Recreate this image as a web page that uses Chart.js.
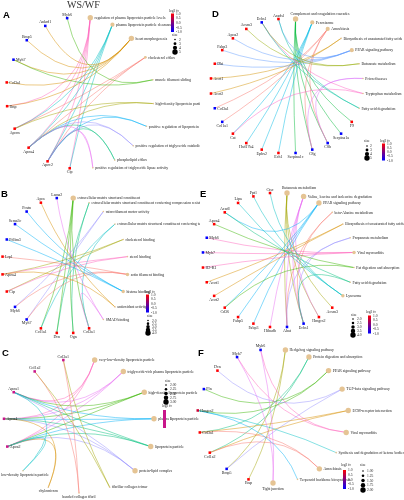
<!DOCTYPE html>
<html>
<head>
<meta charset="utf-8">
<script src="https://cdn.jsdelivr.net/npm/chart.js@4.4.1/dist/chart.umd.min.js"></script>
<style>
  body { margin: 0; background: #fff; }
  #wrap { position: relative; width: 404px; height: 500px; overflow: hidden; }
  #wrap canvas { position: absolute; }
</style>
</head>
<body>
<div id="wrap">
  <canvas id="panelA"></canvas>
  <canvas id="panelD"></canvas>
  <canvas id="panelB"></canvas>
  <canvas id="panelE"></canvas>
  <canvas id="panelC"></canvas>
  <canvas id="panelF"></canvas>
</div>
<script>
// ---------- data (terms go clockwise from the top, genes continue round the circle) ----------
// A
const termsA = ['regulation of plasma lipoprotein particle levels', 'plasma lipoprotein particle clearance', 'heart morphogenesis', 'cholesterol efflux', 'muscle filament sliding', 'high-density lipoprotein particle assembly', 'positive regulation of lipoprotein lipase activity', 'positive regulation of triglyceride catabolic process', 'phospholipid efflux', 'positive regulation of triglyceride lipase activity'];
const genesA = ['Cip', 'Apoc2', 'Apoa4', 'Apom', 'Ibsp', 'Col3a1', 'Myh7', 'Bmp5', 'Ankrd1', 'Myh6'];
const fcA = [1, 1, 1, 1, 1, 1, -1, -1, -1, -1];
const linksA = [
  ['Apom', 'Apoa4', 'Apoc2', 'Cip', 'Ibsp'],
  ['Apom', 'Apoa4', 'Apoc2', 'Cip'],
  ['Ankrd1', 'Bmp5', 'Myh7', 'Col3a1', 'Ibsp'],
  ['Apom', 'Apoa4', 'Apoc2'],
  ['Myh6', 'Myh7'],
  ['Apom', 'Apoa4'],
  ['Apoa4', 'Apoc2'],
  ['Apoa4', 'Apoc2'],
  ['Apoa4', 'Apoc2'],
  ['Apoa4', 'Apoc2']
];
const sizeTicksA = ['2', '3', '4', '5'];
const fcTicksA = [1, 0.5, 0, -0.5, -1];

// D
const termsD = ['Complement and coagulation cascades', 'Peroxisome', 'Amoebiasis', 'Biosynthesis of unsaturated fatty acids', 'PPAR signaling pathway', 'Butanoate metabolism', 'Prion diseases', 'Tryptophan metabolism', 'Fatty acid degradation'];
const genesD = ['F9', 'Serpina1a', 'C8b', 'C8g', 'Serpina1c', 'Ech1', 'Ephx2', 'Hsd17b4', 'Cat', 'Col1a1', 'Col3a1', 'Acot2', 'Acot1', 'Dbi', 'Fabp3', 'Apoa2', 'Acsm3', 'Echs1', 'Acadsl'];
const fcD = [1, -1, -1, -1, -1, 1, 1, 1, 1, -1, -1, 1, 1, 1, 1, 1, 1, -1, 1];
const linksD = [
  ['F9', 'Serpina1a', 'C8b', 'C8g', 'Serpina1c'],
  ['Ech1', 'Ephx2', 'Hsd17b4', 'Cat'],
  ['Col1a1', 'Col3a1', 'C8b', 'C8g'],
  ['Acot1', 'Acot2'],
  ['Apoa2', 'Fabp3', 'Dbi', 'Acadsl'],
  ['Acsm3', 'Echs1'],
  ['C8b', 'C8g'],
  ['Cat', 'Echs1'],
  ['Acadsl', 'Echs1']
];
const sizeTicksD = ['2', '3', '4', '5'];
const fcTicksD = [1, 0.5, 0, -0.5, -1];

// B
const termsB = ['extracellular matrix structural constituent', 'extracellular matrix structural constituent conferring compression resistance', 'microfilament motor activity', 'extracellular matrix structural constituent conferring tensile strength', 'cholesterol binding', 'sterol binding', 'actin filament binding', 'histone binding', 'antioxidant activity', 'SMAD binding'];
const genesB = ['Col3a1', 'Ogn', 'Dcn', 'Col1a1', 'Myh7', 'Myh6', 'Cip', 'Apoa4', 'Lrp1', 'Pdlim3', 'Sema3c', 'Postn', 'Apoe', 'Lama2'];
const fcB = [1, 1, 1, 1, -1, -1, 1, 1, 1, -1, -1, -1, 1, -1];
const linksB = [
  ['Col3a1', 'Ogn', 'Dcn', 'Col1a1'],
  ['Ogn', 'Dcn'],
  ['Myh7', 'Myh6'],
  ['Col3a1', 'Col1a1'],
  ['Apoa4', 'Cip'],
  ['Apoa4', 'Cip'],
  ['Myh7', 'Myh6', 'Lrp1'],
  ['Pdlim3', 'Sema3c', 'Postn'],
  ['Apoa4', 'Apoe'],
  ['Col3a1', 'Lama2']
];
const sizeTicksB = ['2.0', '2.5', '3.0', '3.5', '4.0'];
const fcTicksB = [1, 0.5, 0, -0.5, -1];

// E
const termsE = ['Butanoate metabolism', 'Valine, leucine and isoleucine degradation', 'PPAR signaling pathway', 'beta-Alanine metabolism', 'Biosynthesis of unsaturated fatty acids', 'Propanoate metabolism', 'Viral myocarditis', 'Fat digestion and absorption', 'Fatty acid degradation', 'Lysosome'];
const genesE = ['Acsm3', 'Hmgcs2', 'Echs1', 'Abat', 'Hibadh', 'Fabp3', 'Fabp5', 'Cd36', 'Acot2', 'Acot1', 'H2-K1', 'Myh7', 'Myh6', 'Apoa4', 'Acadl', 'Lipa', 'Ppt1', 'Ctsc'];
const fcE = [1, 1, -1, -1, 1, 1, 1, 1, 1, 1, 1, -1, -1, 1, 1, 1, 1, 1];
const linksE = [
  ['Acsm3', 'Hmgcs2', 'Echs1', 'Abat'],
  ['Hmgcs2', 'Echs1', 'Abat', 'Hibadh'],
  ['Fabp3', 'Fabp5', 'Cd36', 'Acadl'],
  ['Echs1', 'Abat'],
  ['Acot2', 'Acot1'],
  ['Echs1', 'Abat'],
  ['H2-K1', 'Myh7', 'Myh6'],
  ['Cd36', 'Apoa4'],
  ['Echs1', 'Acadl'],
  ['Lipa', 'Ppt1', 'Ctsc']
];
const sizeTicksE = ['2.0', '2.5', '3.0', '3.5', '4.0'];
const fcTicksE = [1, 0.5, 0, -0.5, -1];

// C
const termsC = ['very-low-density lipoprotein particle', 'triglyceride-rich plasma lipoprotein particle', 'high-density lipoprotein particle', 'plasma lipoprotein particle', 'lipoprotein particle', 'protein-lipid complex', 'fibrillar collagen trimer', 'banded collagen fibril', 'chylomicron', 'low-density lipoprotein particle'];
const genesC = ['Apoa2', 'Apoa4', 'Apoa1', 'Col1a2', 'Col3a1'];
const fcC = [1, 1, 1, 1, 1];
const linksC = [
  ['Apoa2', 'Apoa4', 'Apoa1'],
  ['Apoa2', 'Apoa4', 'Apoa1'],
  ['Apoa2', 'Apoa4', 'Apoa1'],
  ['Apoa2', 'Apoa4', 'Apoa1'],
  ['Apoa2', 'Apoa4', 'Apoa1'],
  ['Apoa2', 'Apoa4', 'Apoa1'],
  ['Col1a2', 'Col3a1'],
  ['Col1a2', 'Col3a1'],
  ['Apoa2', 'Apoa4'],
  ['Apoa2', 'Apoa1']
];
const sizeTicksC = ['2.00', '2.25', '2.50', '2.75', '3.00'];
const fcTicksC = [1];

// F
const termsF = ['Hedgehog signaling pathway', 'Protein digestion and absorption', 'PPAR signaling pathway', 'TGF-beta signaling pathway', 'ECM-receptor interaction', 'Viral myocarditis', 'Synthesis and degradation of ketone bodies', 'Amoebiasis', 'Terpenoid backbone biosynthesis', 'Tight junction'];
const genesF = ['Ibsp', 'Bmp5', 'Col1a2', 'Col3a1', 'Hmgcs2', 'Pln', 'Dcn', 'Myh7', 'Myh6'];
const fcF = [1, -1, 1, 1, 0.6, -1, 1, -1, -1];
const linksF = [
  ['Ibsp', 'Bmp5'],
  ['Col1a2', 'Col3a1'],
  ['Hmgcs2', 'Pln'],
  ['Bmp5', 'Dcn'],
  ['Col1a2', 'Col3a1'],
  ['Myh7', 'Myh6'],
  ['Hmgcs2'],
  ['Col1a2', 'Col3a1'],
  ['Hmgcs2'],
  ['Myh7', 'Myh6']
];
const sizeTicksF = ['1.00', '1.25', '1.50', '1.75', '2.00'];
const fcTicksF = [1, 0.5, 0, -0.5, -1];

// ---------- styling ----------
const pal10 = ['#F8766D', '#D89000', '#A3A500', '#39B600', '#00BF7D', '#00BFC4', '#00B0F6', '#9590FF', '#E76BF3', '#FF62BC'];
const pal9 = ['#F8766D', '#D39200', '#93AA00', '#00BA38', '#00C19F', '#00B9E3', '#619CFF', '#DB72FB', '#FF61C3'];
const termColor = '#E5C494';
const serif = '"Liberation Serif", "DejaVu Serif", serif';

const panels = [
  { id: 'A', left: 0, top: 0, w: 200, h: 176, cx: 80, cy: 93, rx: 74, ry: 76, start: 82, hub: [0.07, -0.05],
    terms: termsA, genes: genesA, fc: fcA, links: linksA, sizeTicks: sizeTicksA, fcTicks: fcTicksA,
    letter: [3, 18], title: true,
    fcLeg: { x: 169, y: 12, bar: [171, 13.5, 3, 18.5], labX: 176 },
    sizeLeg: { x: 172, y: 36, dotX: 175, y0: 39.5, y1: 52, labX: 179 } },
  { id: 'D', left: 194, top: 0, w: 210, h: 176, cx: 93, cy: 86, rx: 76.5, ry: 67.4, start: 83.57, hub: [0.065, 0.163],
    terms: termsD, genes: genesD, fc: fcD, links: linksD, sizeTicks: sizeTicksD, fcTicks: fcTicksD,
    letter: [18, 17],
    fcLeg: { x: 186, y: 142, bar: [188, 143.5, 3, 17], labX: 193 },
    sizeLeg: { x: 170, y: 142, dotX: 173, y0: 146, y1: 158, labX: 176 } },
  { id: 'B', left: 0, top: 165, w: 200, h: 176, cx: 65, cy: 100.5, rx: 63, ry: 68, start: 82.5, hub: [0.03, 0.04],
    terms: termsB, genes: genesB, fc: fcB, links: linksB, sizeTicks: sizeTicksB, fcTicks: fcTicksB,
    letter: [1, 32],
    fcLeg: { x: 145, y: 128, bar: [146, 129.5, 3, 18], labX: 151 },
    sizeLeg: { x: 147, y: 152, dotX: 148, y0: 155.5, y1: 168, labX: 152 } },
  { id: 'E', left: 194, top: 165, w: 210, h: 176, cx: 84.5, cy: 95, rx: 76, ry: 67.4, start: 83.57, hub: [0.046, 0.074],
    terms: termsE, genes: genesE, fc: fcE, links: linksE, sizeTicks: sizeTicksE, fcTicks: fcTicksE,
    letter: [6, 32],
    fcLeg: { x: 172, y: 148, bar: [174, 150.5, 3, 18], labX: 179 },
    sizeLeg: { x: 157, y: 151, dotX: 159, y0: 154, y1: 170, labX: 163 } },
  { id: 'C', left: 0, top: 330, w: 200, h: 170, cx: 79, cy: 95.8, rx: 75.4, ry: 67.2, start: 78, hub: [-0.05, 0.086],
    terms: termsC, genes: genesC, fc: fcC, links: linksC, sizeTicks: sizeTicksC, fcTicks: fcTicksC,
    letter: [2, 26],
    fcLeg: { x: 162, y: 77, bar: [163, 80, 3, 18], labX: 170 },
    sizeLeg: { x: 165, y: 52, dotX: 166, y0: 55, y1: 72, labX: 170 } },
  { id: 'F', left: 194, top: 330, w: 210, h: 170, cx: 79, cy: 86, rx: 75.5, ry: 67, start: 80.53, hub: [0.05, -0.13],
    terms: termsF, genes: genesF, fc: fcF, links: linksF, sizeTicks: sizeTicksF, fcTicks: fcTicksF,
    letter: [4, 26],
    fcLeg: { x: 147, y: 136, bar: [149, 140, 3, 19], labX: 154 },
    sizeLeg: { x: 166, y: 136, dotX: 169, y0: 141, y1: 160, labX: 173 } }
];

// ---------- helpers ----------
function rgba(hex, a) {
  const n = parseInt(hex.slice(1), 16);
  return `rgba(${(n >> 16) & 255},${(n >> 8) & 255},${n & 255},${a})`;
}

function fcColor(v, lo, hi) {
  if (hi === lo) return '#c8168a';
  const t = Math.max(0, Math.min(1, (v - lo) / (hi - lo)));
  return `rgb(${Math.round(255 * t)},0,${Math.round(255 * (1 - t))})`;
}

// circular layout: every node on the unit circle, clockwise from the start angle
function circleLayout(terms, genes, start) {
  const n = terms.length + genes.length, step = 360 / n;
  const at = k => {
    const deg = start - k * step, a = deg * Math.PI / 180;
    return { x: Math.cos(a), y: Math.sin(a), deg };
  };
  return { terms: terms.map((t, i) => at(i)), genes: genes.map((g, i) => at(terms.length + i)) };
}

function drawPanel(p) {
  const canvas = document.getElementById('panel' + p.id);
  canvas.width = p.w;
  canvas.height = p.h;
  canvas.style.left = p.left + 'px';
  canvas.style.top = p.top + 'px';

  const lay = circleLayout(p.terms, p.genes, p.start);
  const sizeVals = p.sizeTicks.map(parseFloat);
  const sMin = sizeVals[0], sMax = sizeVals[sizeVals.length - 1];
  const rad = c => 0.8 + (c - sMin) / (sMax - sMin) * 1.9;
  const fcLo = Math.min(...p.fcTicks), fcHi = Math.max(...p.fcTicks);
  const sorted = p.terms.slice().sort((a, b) => a.localeCompare(b, 'en', { sensitivity: 'base' }));
  const pal = sorted.length === 9 ? pal9 : pal10;
  const edgeColor = t => pal[sorted.indexOf(t)];

  const netPlugin = {
    id: 'net' + p.id,
    beforeDatasetsDraw(chart) {
      const ctx = chart.ctx;
      const termPts = chart.getDatasetMeta(0).data, genePts = chart.getDatasetMeta(1).data;
      const hx = chart.scales.x.getPixelForValue(p.hub[0]);
      const hy = chart.scales.y.getPixelForValue(p.hub[1]);
      ctx.save();
      ctx.lineWidth = 0.8;
      p.terms.forEach((t, i) => {
        ctx.strokeStyle = rgba(edgeColor(t), 0.6);
        p.links[i].forEach(g => {
          const gp = genePts[p.genes.indexOf(g)], tp = termPts[i];
          ctx.beginPath();
          ctx.moveTo(gp.x, gp.y);
          ctx.quadraticCurveTo(hx, hy, tp.x, tp.y);
          ctx.stroke();
        });
      });
      ctx.restore();
    },
    afterDatasetsDraw(chart) {
      const ctx = chart.ctx;
      const termPts = chart.getDatasetMeta(0).data, genePts = chart.getDatasetMeta(1).data;
      ctx.save();
      ctx.fillStyle = '#222';
      ctx.textBaseline = 'alphabetic';
      ctx.textAlign = 'left';

      // gene labels
      ctx.font = '4px ' + serif;
      p.genes.forEach((g, i) => {
        const pt = genePts[i], w = ctx.measureText(g).width;
        const band = (pt.y - p.cy) / p.ry;
        let x, y;
        if (band < -0.45) { x = pt.x - w / 2; y = pt.y - 2.5; }
        else if (band > 0.45) { x = pt.x - w / 2; y = pt.y + 5; }
        else { x = pt.x + 2.5; y = pt.y + 1.4; }
        ctx.fillText(g, Math.max(1, x), y);
      });

      // term labels
      ctx.font = '3.8px ' + serif;
      p.terms.forEach((t, i) => {
        const pt = termPts[i], r = rad(p.links[i].length), w = ctx.measureText(t).width;
        let x, y;
        if (lay.terms[i].deg > 83) { x = pt.x - 5; y = pt.y - r - 1.5; }
        else if (pt.x < p.cx + 1 && pt.y > p.cy) { x = pt.x - w / 2; y = pt.y + r + 4; }
        else { x = pt.x + r + 1.5; y = pt.y + 1.3; }
        ctx.fillText(t, Math.max(1, x), y);
      });

      // colour bar legend
      const f = p.fcLeg;
      const [bx, by, bw, bh] = f.bar;
      ctx.font = '3.6px ' + serif;
      ctx.fillText('log2 fc', f.x, f.y);
      if (fcHi === fcLo) {
        ctx.fillStyle = fcColor(fcHi, fcLo, fcHi);
      } else {
        const grad = ctx.createLinearGradient(0, by, 0, by + bh);
        for (let s = 0; s <= 10; s++) grad.addColorStop(s / 10, fcColor(fcHi - s / 10 * (fcHi - fcLo), fcLo, fcHi));
        ctx.fillStyle = grad;
      }
      ctx.fillRect(bx, by, bw, bh);
      ctx.fillStyle = '#222';
      p.fcTicks.forEach(v => {
        const ty = fcHi === fcLo ? by + bh / 2 : by + (fcHi - v) / (fcHi - fcLo) * bh;
        const lab = p.fcTicks.length === 1 ? String(v) : v.toFixed(1);
        ctx.fillText(lab, f.labX, ty + 1.2);
      });

      // size legend
      const s = p.sizeLeg;
      ctx.fillText('size', s.x, s.y);
      p.sizeTicks.forEach((lab, k) => {
        const dy = s.y0 + k * (s.y1 - s.y0) / (p.sizeTicks.length - 1);
        ctx.beginPath();
        ctx.arc(s.dotX, dy, rad(parseFloat(lab)), 0, Math.PI * 2);
        ctx.fillStyle = '#000';
        ctx.fill();
        ctx.fillStyle = '#222';
        ctx.fillText(lab, s.labX, dy + 1.2);
      });

      // panel letter and title
      ctx.fillStyle = '#000';
      ctx.font = 'bold 9.5px "Liberation Sans", Arial, sans-serif';
      ctx.fillText(p.id, p.letter[0], p.letter[1]);
      if (p.title) {
        ctx.font = '10px ' + serif;
        ctx.fillStyle = '#333';
        ctx.fillText('WS/WF', 67, 7.8);
      }
      ctx.restore();
    }
  };

  new Chart(canvas, {
    type: 'scatter',
    data: {
      datasets: [
        {
          label: 'terms',
          data: lay.terms.map(q => ({ x: q.x, y: q.y })),
          pointStyle: 'circle',
          pointRadius: p.links.map(l => rad(l.length)),
          backgroundColor: termColor,
          borderWidth: 0,
          clip: false
        },
        {
          label: 'genes',
          data: lay.genes.map(q => ({ x: q.x, y: q.y })),
          pointStyle: 'rect',
          pointRadius: 1.8,
          backgroundColor: p.fc.map(v => fcColor(v, fcLo, fcHi)),
          borderWidth: 0,
          clip: false
        }
      ]
    },
    options: {
      responsive: false,
      animation: false,
      events: [],
      layout: { padding: 0, autoPadding: false },
      plugins: { legend: { display: false }, tooltip: { enabled: false } },
      scales: {
        x: { type: 'linear', display: false, min: -p.cx / p.rx, max: (p.w - p.cx) / p.rx },
        y: { type: 'linear', display: false, min: -(p.h - p.cy) / p.ry, max: p.cy / p.ry }
      }
    },
    plugins: [netPlugin]
  });
}

panels.forEach(drawPanel);
</script>
</body>
</html>
